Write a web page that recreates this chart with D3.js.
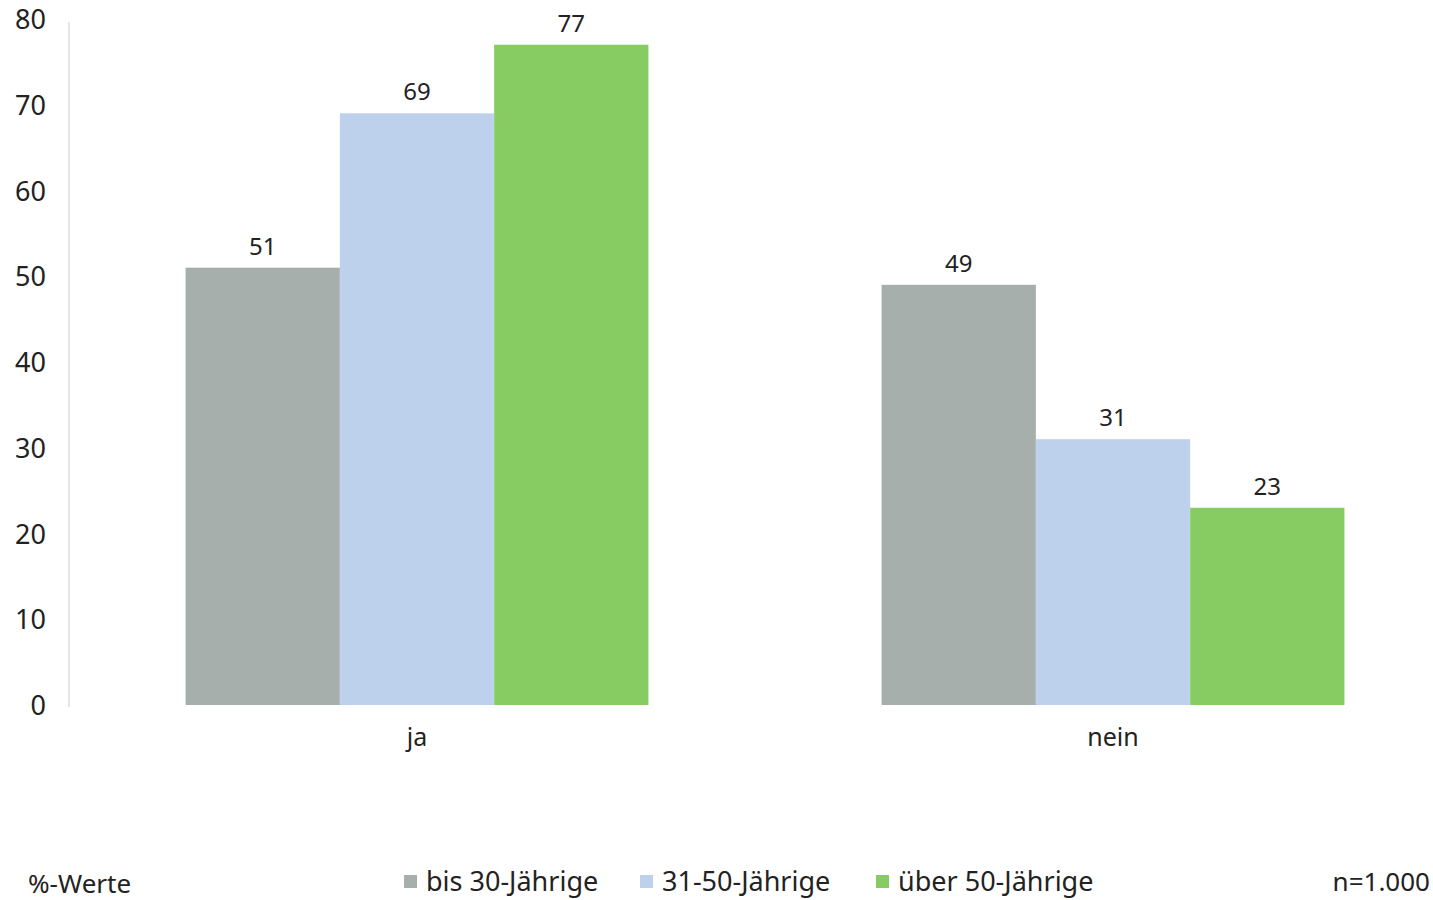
<!DOCTYPE html>
<html>
<head>
<meta charset="utf-8">
<script src="https://cdn.jsdelivr.net/npm/d3@7"></script>
<style>
  html, body { margin: 0; padding: 0; background: #fff; }
  svg { display: block; }
  text { font-family: "Noto Sans", "DejaVu Sans", sans-serif; fill: #222; }
</style>
</head>
<body>
<svg id="chart" width="1433" height="900"></svg>
<script>
// Antwortkategorien und Altersgruppen
const categories = ["ja", "nein"];
const groups = ["bis 30-Jährige", "31-50-Jährige", "über 50-Jährige"];
// Prozentwerte je Altersgruppe, in Reihenfolge der Kategorien
const seriesBis30 = [51, 49];
const series31to50 = [69, 31];
const seriesUeber50 = [77, 23];
const yTicks = [0, 10, 20, 30, 40, 50, 60, 70, 80];
const colors = ["#a6afab", "#bdd0ec", "#86cc62"];

const series = [seriesBis30, series31to50, seriesUeber50];

const svg = d3.select("#chart");
const plotLeft = 69, plotRight = 1461, plotTop = 19, plotBottom = 705;

const x = d3.scaleBand().domain(categories).range([plotLeft, plotRight])
  .paddingInner(0.335).paddingOuter(0.1675);
const xSub = d3.scaleBand().domain(groups).range([0, x.bandwidth()]);
const y = d3.scaleLinear().domain([0, 80]).range([plotBottom, plotTop]);

// Y-Achse: nur Linie und Beschriftung
svg.append("line")
  .attr("x1", plotLeft).attr("x2", plotLeft)
  .attr("y1", y(80) + 3).attr("y2", y(0) + 2)
  .attr("stroke", "#d4d4d4").attr("stroke-width", 1.2);

svg.append("g").selectAll("text").data(yTicks).join("text")
  .attr("x", 46).attr("y", d => y(d) + 3)
  .attr("text-anchor", "end").attr("dominant-baseline", "middle")
  .attr("font-size", 27)
  .text(d => d);

// Balken
const catG = svg.append("g").selectAll("g").data(categories).join("g")
  .attr("transform", c => `translate(${x(c)},0)`);

catG.selectAll("rect").data((c, ci) => groups.map((g, gi) => ({ g, gi, v: series[gi][ci] })))
  .join("rect")
  .attr("x", d => xSub(d.g))
  .attr("width", xSub.bandwidth())
  .attr("y", d => y(d.v))
  .attr("height", d => y(0) - y(d.v))
  .attr("fill", d => colors[d.gi]);

// Wertebeschriftungen
catG.selectAll("text.val").data((c, ci) => groups.map((g, gi) => ({ g, gi, v: series[gi][ci] })))
  .join("text").attr("class", "val")
  .attr("x", d => xSub(d.g) + xSub.bandwidth() / 2)
  .attr("y", d => y(d.v) - 13)
  .attr("text-anchor", "middle")
  .attr("font-size", 24)
  .text(d => d.v);

// Kategoriebeschriftungen
svg.append("g").selectAll("text").data(categories).join("text")
  .attr("x", c => x(c) + x.bandwidth() / 2)
  .attr("y", 746)
  .attr("text-anchor", "middle")
  .attr("font-size", 25)
  .text(c => c);

// Legende
const legendX = [404, 640, 876];
const leg = svg.append("g").selectAll("g").data(groups).join("g")
  .attr("transform", (d, i) => `translate(${legendX[i]},0)`);
leg.append("rect").attr("x", 0).attr("y", 875).attr("width", 13).attr("height", 13)
  .attr("fill", (d, i) => colors[i]);
leg.append("text").attr("x", 22).attr("y", 891)
  .attr("font-size", 27).text(d => d);

svg.append("text").attr("x", 28).attr("y", 893).attr("font-size", 26).text("%-Werte");
svg.append("text").attr("x", 1430).attr("y", 891).attr("text-anchor", "end")
  .attr("font-size", 26).text("n=1.000");
</script>
</body>
</html>
